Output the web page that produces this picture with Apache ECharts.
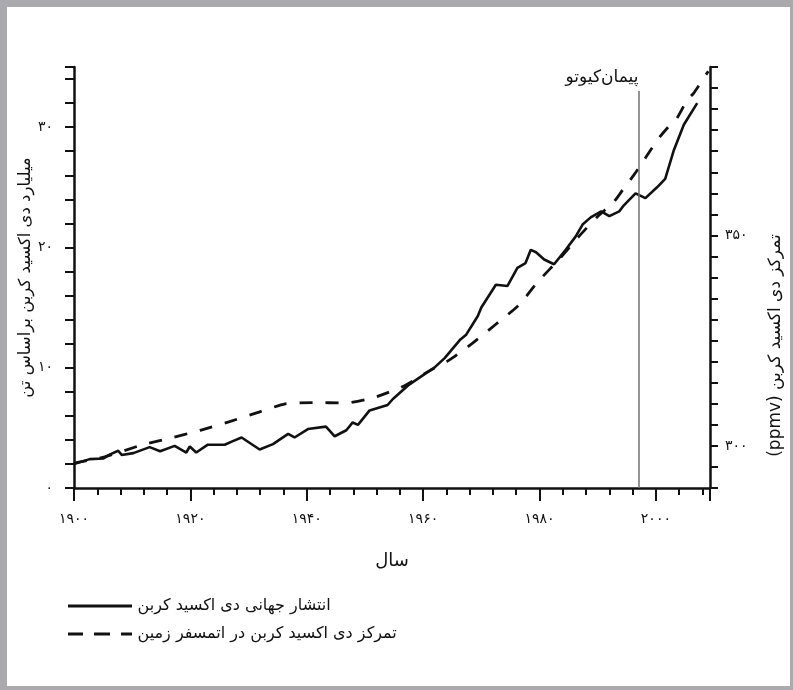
<!DOCTYPE html>
<html>
<head>
<meta charset="utf-8">
<script src="https://cdn.jsdelivr.net/npm/echarts@6/dist/echarts.min.js"></script>
<style>
    html, body { margin: 0; padding: 0; background: #fff; }
    .chart-main { position: absolute; left: 0; top: 0; width: 793px; height: 690px; }
    .chart-frame {
        position: absolute; left: 0; top: 0; width: 793px; height: 690px;
        box-sizing: border-box; border-style: solid; border-color: #a9a9ae;
        border-width: 7px 3px 4px 7px; pointer-events: none;
    }
</style>
</head>
<body>
<div class="chart-main"></div>
<div class="chart-frame"></div>
<script>
// global CO2 emissions (billion tonnes)
const emissionYears = [1900, 1902.7, 1905, 1906.2, 1907.6, 1908.2, 1910.2, 1913, 1914.8, 1917.3, 1919.3, 1919.9, 1921, 1923, 1925.9, 1927.3, 1928.8, 1931.9, 1934.2, 1936.8, 1937.9, 1940.2, 1943.3, 1944.8, 1946.8, 1947.9, 1948.8, 1950.8, 1953.9, 1954.8, 1957.6, 1960.5, 1961.7, 1963.7, 1966.3, 1967.4, 1969.4, 1970, 1972.5, 1974.5, 1976.2, 1977.6, 1978.5, 1979.4, 1980.8, 1982.5, 1984.5, 1986.2, 1987.4, 1988.8, 1990.6, 1992, 1993.7, 1994.5, 1996.5, 1998.2, 2000.2, 2001.6, 2003.1, 2004.8, 2007.1];
const emissionValues = [2.0, 2.4, 2.45, 2.8, 3.1, 2.75, 2.9, 3.4, 3.05, 3.5, 2.95, 3.45, 2.95, 3.6, 3.6, 3.9, 4.2, 3.2, 3.65, 4.5, 4.2, 4.9, 5.1, 4.3, 4.8, 5.45, 5.25, 6.45, 6.9, 7.4, 8.6, 9.55, 9.9, 10.8, 12.3, 12.75, 14.3, 15.0, 16.9, 16.8, 18.3, 18.7, 19.8, 19.6, 19.0, 18.6, 19.8, 20.9, 21.9, 22.5, 23.0, 22.6, 23.0, 23.5, 24.5, 24.1, 25.0, 25.7, 28.1, 30.2, 32.0];

// atmospheric CO2 concentration (ppmv)
const co2Years = [1900, 1905.3, 1911.6, 1916.4, 1921.7, 1926.6, 1931.5, 1936.3, 1941, 1946.6, 1951.6, 1956.8, 1961.6, 1964.4, 1968.5, 1972.5, 1976.5, 1979.6, 1983.6, 1986.6, 1990, 1992.8, 1994.5, 1996.2, 1997.4, 1999.1, 2000.5, 2001.9, 2003.6, 2005.4, 2006.5, 2009];
const co2Values = [295.9, 297.4, 300.2, 301.8, 303.7, 305.7, 307.9, 310.0, 310.3, 310.2, 311.5, 314.3, 318.3, 320.3, 324.4, 328.9, 333.5, 338.8, 344.7, 349.5, 354.5, 358.0, 361.2, 364.3, 366.7, 370.3, 373.1, 375.4, 377.8, 382.2, 383.8, 389];

const xTickLabels = [1900, 1920, 1940, 1960, 1980, 2000];
const leftTickLabels = [0, 10, 20, 30];
const rightTickLabels = [300, 350];

const kyotoYear = 1997;
const kyotoTop = 33;

(function () {
    "use strict";

    const fontFa = 'DejaVu Sans';
    const ink = '#111';
    const emissionName = 'انتشار جهانی دی اکسید کربن';
    const co2Name = 'تمرکز دی اکسید کربن در اتمسفر زمین';

    function faDigits(v) {
        return String(v).replace(/\d/g, d => '۰۱۲۳۴۵۶۷۸۹'[d]);
    }

    function pairs(xs, ys) {
        return xs.map((x, i) => [x, ys[i]]);
    }

    function getChart() {
        let myChart = echarts.init(document.querySelector('.chart-main'), null, { renderer: 'canvas' });
        let option = {
            animation: false,
            backgroundColor: 'transparent',
            grid: {
                left: 74,
                right: 83,
                top: 67,
                bottom: 202,
                containLabel: false,
                outerBoundsMode: 'none'
            },
            legend: {
                orient: 'vertical',
                left: 63,
                top: 593,
                itemWidth: 65,
                itemHeight: 3,
                itemGap: 12,
                textStyle: { fontSize: 16, fontFamily: fontFa, color: ink },
                data: [
                    { name: emissionName, icon: 'path://M0,0H64V3H0Z', itemStyle: { color: ink } },
                    { name: co2Name, icon: 'path://M0,0H15V3H0Z M26,0H42V3H26Z M53,0H64V3H53Z', itemStyle: { color: ink } }
                ]
            },
            xAxis: {
                type: 'value',
                min: 1900,
                max: 2009.3,
                interval: 20,
                name: 'سال',
                nameLocation: 'middle',
                nameGap: 64,
                nameTextStyle: { fontSize: 18, fontFamily: fontFa, color: ink },
                axisLine: { onZero: false, lineStyle: { color: ink, width: 2.5 } },
                axisTick: { show: true, length: 13, lineStyle: { color: ink, width: 2 } },
                minorTick: { show: true, splitNumber: 5, length: 7, lineStyle: { color: ink, width: 2 } },
                splitLine: { show: false },
                axisLabel: {
                    margin: 24,
                    fontSize: 14,
                    fontFamily: fontFa,
                    color: ink,
                    showMaxLabel: false,
                    formatter: v => xTickLabels.indexOf(v) > -1 ? faDigits(v) : ''
                }
            },
            yAxis: [
                {
                    type: 'value',
                    position: 'left',
                    min: 0,
                    max: 35,
                    interval: 2,
                    name: 'میلیارد دی اکسید کربن براساس تن',
                    nameLocation: 'middle',
                    nameRotate: 90,
                    nameGap: 40,
                    nameMoveOverlap: false,
                    nameTextStyle: { fontSize: 16.5, fontFamily: fontFa, color: ink },
                    axisLine: { show: true, onZero: false, lineStyle: { color: ink, width: 2.5 } },
                    axisTick: { show: true, length: 9, lineStyle: { color: ink, width: 2 } },
                    splitLine: { show: false },
                    axisLabel: {
                        margin: 21,
                        fontSize: 14,
                        fontFamily: fontFa,
                        color: ink,
                        formatter: v => leftTickLabels.indexOf(v) > -1 ? faDigits(v) : ''
                    }
                },
                {
                    type: 'value',
                    position: 'right',
                    min: 290,
                    max: 390,
                    interval: 5,
                    name: '\u202Bتمرکز دی اکسید کربن (ppmv)\u202C',
                    nameLocation: 'middle',
                    nameRotate: 90,
                    nameGap: 57,
                    nameMoveOverlap: false,
                    nameTextStyle: { fontSize: 17, fontFamily: fontFa, color: ink, padding: [0, 136, 0, 0] },
                    axisLine: { show: true, onZero: false, lineStyle: { color: ink, width: 2.5 } },
                    axisTick: { show: true, length: 8, lineStyle: { color: ink, width: 2 } },
                    splitLine: { show: false },
                    axisLabel: {
                        margin: 15,
                        fontSize: 14,
                        fontFamily: fontFa,
                        color: ink,
                        formatter: v => rightTickLabels.indexOf(v) > -1 ? faDigits(v) : ''
                    }
                }
            ],
            series: [
                {
                    name: emissionName,
                    type: 'line',
                    yAxisIndex: 0,
                    symbol: 'none',
                    smooth: false,
                    lineStyle: { color: ink, width: 2.6 },
                    itemStyle: { color: ink },
                    data: pairs(emissionYears, emissionValues),
                    markLine: {
                        silent: true,
                        symbol: ['none', 'none'],
                        lineStyle: { color: '#707070', width: 1.5, type: 'solid' },
                        label: {
                            show: true,
                            position: 'end',
                            align: 'right',
                            distance: 5,
                            formatter: 'پیمان\u200cکیوتو',
                            fontSize: 17,
                            fontFamily: fontFa,
                            color: ink
                        },
                        data: [[{ coord: [kyotoYear, 0] }, { coord: [kyotoYear, kyotoTop] }]]
                    }
                },
                {
                    name: co2Name,
                    type: 'line',
                    yAxisIndex: 1,
                    symbol: 'none',
                    smooth: 0.2,
                    lineStyle: { color: ink, width: 2.8, type: [13, 13] },
                    itemStyle: { color: ink },
                    data: pairs(co2Years, co2Values)
                }
            ]
        };
        myChart.setOption(option);
        window.addEventListener("resize", () => {
            myChart.resize();
        });
    }

    getChart();
})();
</script>
</body>
</html>
